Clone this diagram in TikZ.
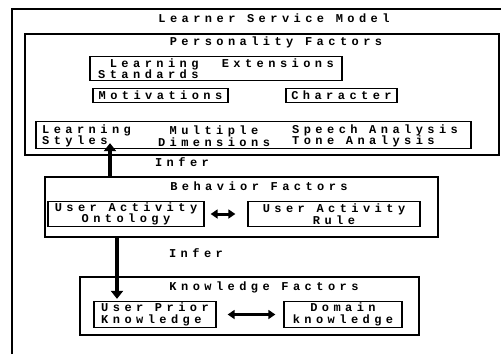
\documentclass[tikz,border=0pt]{standalone}
\usepackage{fontspec}
\usepackage{tikz}
\usetikzlibrary{arrows.meta,positioning,calc}

\newfontfamily\modelfont[LetterSpace=37]{Liberation Mono}

\begin{document}
\begin{tikzpicture}[
    x=1pt, y=-1pt,
    txt/.style={font={\modelfont\bfseries\fontsize{12}{11.5}\selectfont}, inner sep=0pt},
    group/.style={draw, line width=1.3pt, inner sep=0pt},
    item/.style={draw, line width=1.3pt, inner sep=0pt, font={\modelfont\bfseries\fontsize{12}{11.5}\selectfont}},
    infer/.style={line width=4pt, -{Triangle[width=12pt,length=8pt]}},
    link/.style={line width=3pt, {Triangle[width=9pt,length=7pt]}-{Triangle[width=9pt,length=7pt]}}
]
\useasboundingbox (0,0) rectangle (501,354);

% outer frame, cut off at the right and bottom
\draw[line width=1.3pt] (12,354) |- (501,9);
\node[txt] (title) at (274,18) {Learner Service Model};

% personality factors
\node[group, minimum width=474pt, minimum height=121pt] (pers) at (262,94.5) {};
\node[txt] (perst) at (276,42) {Personality Factors};
\node[item, minimum width=252pt, minimum height=24pt, align=left] (stand) at (216,68.5) {~Learning~~Extensions\\Standards};
\node[item, minimum width=135pt, minimum height=14pt] (motiv) at (160.5,95.5) {Motivations};
\node[item, minimum width=111pt, minimum height=14pt] (charac) at (341.5,95.5) {Character};
\node[group, minimum width=435pt, minimum height=27pt] (styles) at (253.5,135) {};
\node[txt, align=left, anchor=west] (lsty) at (42,136) {Learning\\Styles};
\node[txt, align=center] (mdim) at (214,136) {Multiple\\Dimensions};
\node[txt, align=left, anchor=west] (sana) at (292,136) {Speech Analysis\\Tone Analysis};

% behavior factors
\node[group, minimum width=393pt, minimum height=60pt] (behav) at (241.5,207) {};
\node[txt] (behavt) at (259,186) {Behavior Factors};
\node[item, minimum width=156pt, minimum height=25pt, align=center] (uao) at (126,214) {User Activity\\Ontology};
\node[item, minimum width=172pt, minimum height=25pt, align=center] (uar) at (334,214) {User Activity\\Rule};

% knowledge factors
\node[group, minimum width=339pt, minimum height=58pt] (know) at (249.5,306) {};
\node[txt] (knowt) at (264,287) {Knowledge Factors};
\node[item, minimum width=122pt, minimum height=26pt, align=left] (upk) at (155,314.5) {User Prior\\Knowledge};
\node[item, minimum width=118pt, minimum height=26pt, align=center] (dk) at (343,314.5) {Domain\\knowledge};

% inference arrows
\coordinate (upx) at (110,0);
\coordinate (downx) at (117,0);
\draw[infer, shorten >=-6pt] (behav.north -| upx) -- (styles.south -| upx);
\node[txt] (infer1) at (182,162) {Infer};
\draw[infer, shorten >=2pt] (behav.south -| downx) -- (upk.north -| downx);
\node[txt] (infer2) at (196,253) {Infer};

% links inside the groups
\draw[link, shorten <=6pt, shorten >=12pt] (uao.east) -- (uar.west);
\draw[link, shorten <=11pt, shorten >=8pt] (upk.east) -- (dk.west);
\end{tikzpicture}
\end{document}
